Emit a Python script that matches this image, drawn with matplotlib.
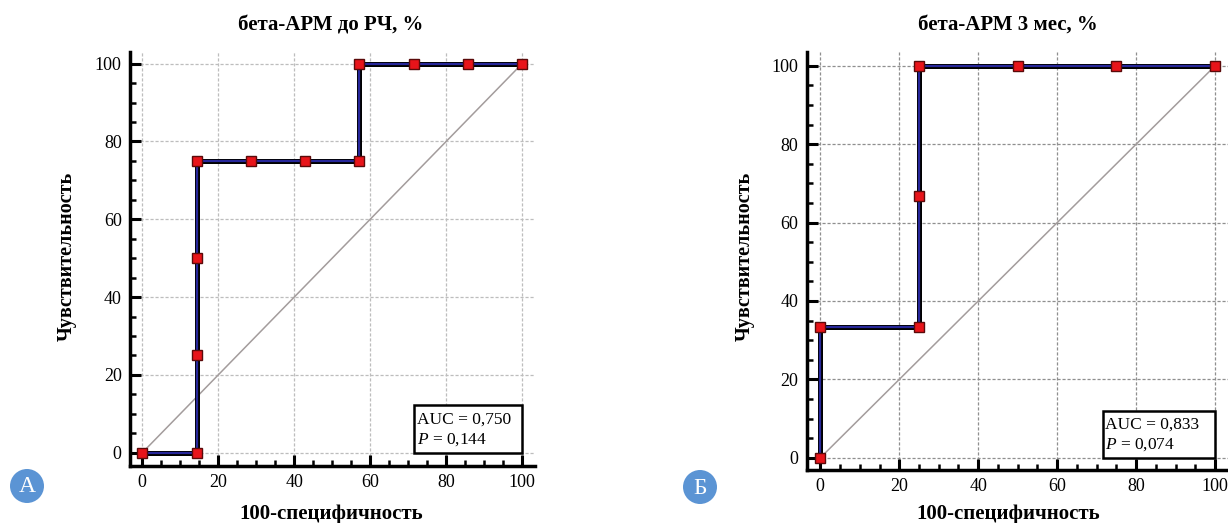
import numpy as np
import matplotlib
matplotlib.use('Agg')
import matplotlib.pyplot as plt
from matplotlib.patches import Rectangle, Ellipse
from matplotlib.ticker import MultipleLocator

plt.rcParams['font.family'] = ['Liberation Serif', 'DejaVu Serif']
plt.rcParams['mathtext.fontset'] = 'custom'
plt.rcParams['mathtext.rm'] = 'Liberation Serif'
plt.rcParams['mathtext.it'] = 'Liberation Serif:italic'

# panel A: beta-ARM before RF
fpr_a = [0, 14.29, 14.29, 14.29, 14.29, 28.57, 42.86, 57.14, 57.14, 71.43, 85.71, 100]
tpr_a = [0, 0, 25, 50, 75, 75, 75, 75, 100, 100, 100, 100]
auc_a = '0,750'
p_a = '0,144'

# panel B: beta-ARM 3 months
fpr_b = [0, 0, 25, 25, 25, 50, 75, 100]
tpr_b = [0, 33.33, 33.33, 66.67, 100, 100, 100, 100]
auc_b = '0,833'
p_b = '0,074'

titles = ['бета-АРМ до РЧ, %', 'бета-АРМ 3 мес, %']
xlabel = '100-специфичность'
ylabel = 'Чувствительность'
letters = ['А', 'Б']

fig = plt.figure(figsize=(12.28, 5.23), dpi=100)

W, H = 1228, 523
def fx(px): return px / W
def fy(py): return 1 - py / H

panels = [
    dict(fpr=fpr_a, tpr=tpr_a, auc=auc_a, p=p_a,
         rect=[fx(130), fy(465.7), fx(535 - 130), (465.7 - 52) / H],
         xlim=(-3.24, 103.4), ylim=(-3.34, 103.0), grid='#bdbdbd',
         cx=331, ylx=67, circ=(27, 486), box=(71.6, 12.3)),
    dict(fpr=fpr_b, tpr=tpr_b, auc=auc_b, p=p_b,
         rect=[fx(806.7), fy(470), fx(1229 - 806.7), (470 - 52) / H],
         xlim=(-3.44, 103.5), ylim=(-3.1, 103.5), grid='#8f8f8f',
         cx=1008, ylx=745, circ=(700, 487), box=(71.6, 12.0)),
]

for i, pn in enumerate(panels):
    ax = fig.add_axes(pn['rect'])
    ax.set_xlim(*pn['xlim'])
    ax.set_ylim(*pn['ylim'])
    for s in ['top', 'right']:
        ax.spines[s].set_visible(False)
    for s in ['left', 'bottom']:
        ax.spines[s].set_linewidth(2.5)
    ax.xaxis.set_major_locator(MultipleLocator(20))
    ax.yaxis.set_major_locator(MultipleLocator(20))
    ax.xaxis.set_minor_locator(MultipleLocator(5))
    ax.yaxis.set_minor_locator(MultipleLocator(5))
    ax.tick_params(which='major', direction='in', length=8, width=2.2, labelsize=13, pad=6)
    ax.tick_params(which='minor', direction='in', length=4.5, width=1.8)
    ax.grid(True, which='major', color=pn['grid'], linestyle=(0, (2.5, 1.5)), linewidth=0.9)
    ax.set_axisbelow(True)

    ax.plot([0, 100], [0, 100], color='#a39c9c', linewidth=1.1, zorder=2)
    ax.plot(pn['fpr'], pn['tpr'], color='black', linewidth=3.6, zorder=3, solid_capstyle='butt')
    ln, = ax.plot(pn['fpr'], pn['tpr'], color='#27279a', linewidth=1.6, zorder=4,
                  marker='s', markersize=6.5, markerfacecolor='#e8141a',
                  markeredgecolor='#5a0a0a', markeredgewidth=1.0)
    ln.set_clip_on(False)

    bx, by = pn['box']
    ax.add_patch(Rectangle((bx, 0), 100 - bx, by, facecolor='white',
                           edgecolor='black', linewidth=1.8, zorder=5))
    ax.text(bx + 0.6, by * 0.70, 'AUC = ' + pn['auc'], fontsize=12.5,
            va='center', ha='left', zorder=6)
    ax.text(bx + 0.6, by * 0.28, '$P$ = ' + pn['p'], fontsize=12.5,
            va='center', ha='left', zorder=6)

    fig.text(fx(pn['cx']), fy(25), titles[i], ha='center', va='center',
             fontsize=15, fontweight='bold')
    fig.text(fx(pn['cx']), fy(514), xlabel, ha='center', va='center',
             fontsize=15, fontweight='bold')
    fig.text(fx(pn['ylx']), fy(256), ylabel, ha='center', va='center',
             fontsize=14.5, fontweight='bold', rotation=90)

    cxp, cyp = pn['circ']
    circ = Ellipse((fx(cxp), fy(cyp)), 34 / W, 34 / H, transform=fig.transFigure,
                   facecolor='#5b94d4', edgecolor='none')
    fig.patches.append(circ)
    fig.text(fx(cxp), fy(cyp + 1), letters[i], ha='center', va='center',
             fontsize=17, color='white')

fig.savefig('out.png', dpi=100)
